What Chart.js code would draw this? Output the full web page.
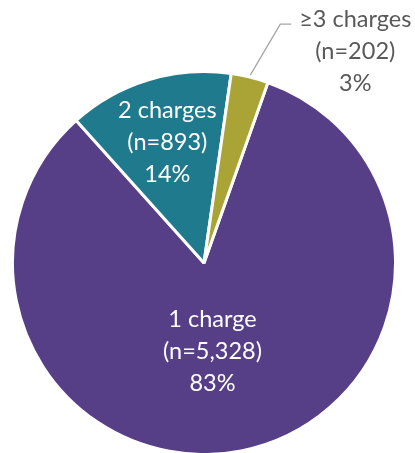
<!DOCTYPE html>
<html>
<head>
<meta charset="utf-8">
<script src="https://cdn.jsdelivr.net/npm/chart.js@4"></script>
<style>
  html, body { margin: 0; padding: 0; background: #fff; }
  #wrap { width: 415px; height: 453px; position: relative; }
</style>
</head>
<body>
<div id="wrap"><canvas id="chargesChart"></canvas></div>
<script>
const categories = ['1 charge', '2 charges', '\u22653 charges'];
const counts = [5328, 893, 202];
const sliceColors = ['#573f88', '#1e7a8c', '#aaa437'];

const total = counts.reduce((a, b) => a + b, 0);

// where each label sits: inside the slice (fraction of radius) or outside with a leader line
const labelSpots = [
    { inside: 0.47, dx: -9, color: '#ffffff' },
    { inside: 0.66, dx: 0, color: '#ffffff' },
    { outside: true, color: '#595959' }
];

const sliceLabels = {
    id: 'sliceLabels',
    afterDatasetsDraw(chart) {
        const ctx = chart.ctx;
        const meta = chart.getDatasetMeta(0);
        ctx.save();
        ctx.font = '23.5px Lato, "Open Sans", sans-serif';
        ctx.textAlign = 'center';
        ctx.textBaseline = 'middle';
        const lineH = 32;

        meta.data.forEach((arc, i) => {
            const spot = labelSpots[i];
            const mid = (arc.startAngle + arc.endAngle) / 2;
            const lines = [
                categories[i],
                '(n=' + counts[i].toLocaleString('en-US') + ')',
                Math.round(counts[i] / total * 100) + '%'
            ];
            let cx, cy;
            if (spot.inside) {
                cx = arc.x + Math.cos(mid) * arc.outerRadius * spot.inside + spot.dx;
                cy = arc.y + Math.sin(mid) * arc.outerRadius * spot.inside;
            } else {
                const sx = arc.x + Math.cos(mid) * (arc.outerRadius + 2);
                const sy = arc.y + Math.sin(mid) * (arc.outerRadius + 2);
                const ex = sx + 30, ey = sy - 51;
                ctx.strokeStyle = '#a6a6a6';
                ctx.lineWidth = 1.3;
                ctx.beginPath();
                ctx.moveTo(sx, sy);
                ctx.lineTo(ex, ey);
                ctx.lineTo(ex + 11, ey);
                ctx.stroke();
                cx = ex + 75;
                cy = ey + 27;
            }
            ctx.fillStyle = spot.color;
            lines.forEach((t, k) => {
                ctx.fillText(t, cx, cy + (k - 1) * lineH);
            });
        });
        ctx.restore();
    }
};

new Chart(document.getElementById('chargesChart'), {
    type: 'pie',
    data: {
        labels: categories,
        datasets: [{
            data: counts,
            backgroundColor: sliceColors,
            borderColor: '#ffffff',
            borderWidth: 3
        }]
    },
    options: {
        responsive: true,
        maintainAspectRatio: false,
        animation: false,
        rotation: 19.5,
        radius: 191.5,
        layout: {
            padding: { left: 14, right: 21, top: 73, bottom: 0 }
        },
        plugins: {
            legend: { display: false },
            tooltip: { enabled: false }
        }
    },
    plugins: [sliceLabels]
});
</script>
</body>
</html>
